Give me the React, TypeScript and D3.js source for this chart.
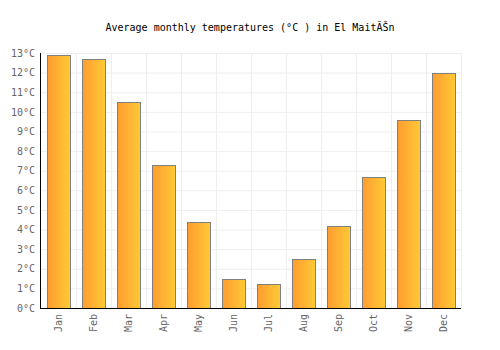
import React, { useRef, useEffect } from 'react'
import * as d3 from 'd3'

const months = ['Jan', 'Feb', 'Mar', 'Apr', 'May', 'Jun', 'Jul', 'Aug', 'Sep', 'Oct', 'Nov', 'Dec']
const temps = [12.9, 12.7, 10.5, 7.3, 4.4, 1.5, 1.2, 2.5, 4.2, 6.7, 9.6, 12.0]
const yTicks = [0, 1, 2, 3, 4, 5, 6, 7, 8, 9, 10, 11, 12, 13]
const title = 'Average monthly temperatures (°C ) in El MaitĂŠn'

const FONT = '"DejaVu Sans Mono", monospace'

export default function App() {
  const svgRef = useRef<SVGSVGElement>(null)

  useEffect(() => {
    if (!svgRef.current) return
    const svg = d3.select(svgRef.current)
    svg.selectAll('*').remove()

    const margin = { top: 53, right: 39, bottom: 42, left: 41 }
    const width = 500 - margin.left - margin.right
    const height = 350 - margin.top - margin.bottom

    const defs = svg.append('defs')
    const grad = defs.append('linearGradient')
      .attr('id', 'barGrad')
      .attr('x1', '0%').attr('x2', '100%').attr('y1', '0%').attr('y2', '0%')
    grad.append('stop').attr('offset', '0%').attr('stop-color', '#ff9c30')
    grad.append('stop').attr('offset', '100%').attr('stop-color', '#ffca35')

    svg.append('rect').attr('width', 500).attr('height', 350).attr('fill', '#ffffff')

    svg.append('text')
      .attr('x', 250)
      .attr('y', 31)
      .attr('text-anchor', 'middle')
      .attr('font-family', FONT)
      .attr('font-size', 10)
      .attr('fill', '#000')
      .text(title)

    const g = svg.append('g').attr('transform', `translate(${margin.left},${margin.top})`)

    const x = d3.scaleBand().domain(months).range([0, width]).paddingInner(0.34).paddingOuter(0.17)
    const y = d3.scaleLinear().domain([0, 13]).range([height, 0])

    // horizontal grid
    g.append('g')
      .selectAll('line')
      .data(yTicks)
      .join('line')
      .attr('x1', 0)
      .attr('x2', width)
      .attr('y1', d => y(d) + 0.5)
      .attr('y2', d => y(d) + 0.5)
      .attr('stroke', '#eeeeee')

    // vertical grid at band boundaries
    const step = x.step()
    g.append('g')
      .selectAll('line')
      .data(d3.range(1, months.length + 1))
      .join('line')
      .attr('x1', d => Math.round(d * step) + 0.5)
      .attr('x2', d => Math.round(d * step) + 0.5)
      .attr('y1', 0)
      .attr('y2', height)
      .attr('stroke', '#eeeeee')

    g.append('g')
      .selectAll('rect')
      .data(temps)
      .join('rect')
      .attr('x', (d, i) => Math.round(x(months[i]) ?? 0) + 0.5)
      .attr('y', d => Math.round(y(d)) + 0.5)
      .attr('width', Math.round(x.bandwidth()))
      .attr('height', d => Math.round(height - y(d)))
      .attr('fill', 'url(#barGrad)')
      .attr('stroke', '#808080')
      .attr('stroke-width', 1)

    // y axis
    const yAxis = g.append('g')
      .call(d3.axisLeft(y).tickValues(yTicks).tickSize(0).tickPadding(6).tickFormat(d => `${d}°C`))
    yAxis.select('.domain').remove()
    yAxis.selectAll('text')
      .attr('font-family', FONT)
      .attr('font-size', 10)
      .attr('fill', '#666')

    g.append('line')
      .attr('x1', -0.5).attr('x2', -0.5)
      .attr('y1', 0).attr('y2', height)
      .attr('stroke', '#000')

    // x axis
    const xAxis = g.append('g')
      .attr('transform', `translate(0,${height})`)
      .call(d3.axisBottom(x).tickSize(0).tickPadding(6))
    xAxis.select('.domain').remove()
    xAxis.selectAll('text')
      .attr('font-family', FONT)
      .attr('font-size', 10)
      .attr('fill', '#666')
      .attr('text-anchor', 'end')
      .attr('dy', '0.35em')
      .attr('transform', 'translate(0,6) rotate(-90)')
      .attr('x', 0)
      .attr('y', 0)

    g.append('line')
      .attr('x1', -1).attr('x2', width)
      .attr('y1', height + 0.5).attr('y2', height + 0.5)
      .attr('stroke', '#000')
  }, [])

  return (
    <div style={{ margin: -8 }}>
      <svg ref={svgRef} width={500} height={350} style={{ display: 'block' }} />
    </div>
  )
}
